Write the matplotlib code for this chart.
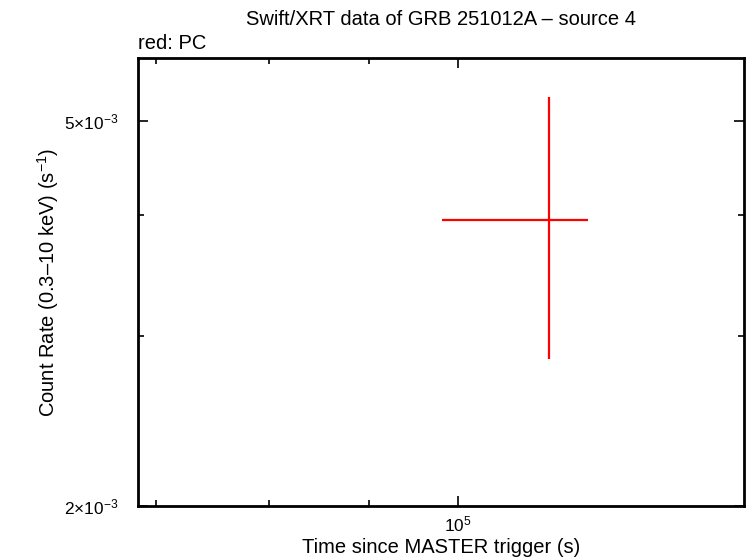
import numpy as np
import matplotlib
matplotlib.use("Agg")
import matplotlib.pyplot as plt
from matplotlib.ticker import FixedLocator, FixedFormatter, NullFormatter

plt.rcParams['font.family'] = ['Liberation Sans', 'DejaVu Sans']
plt.rcParams['mathtext.fontset'] = 'custom'
plt.rcParams['mathtext.rm'] = 'Liberation Sans'
plt.rcParams['mathtext.it'] = 'Liberation Sans'

# PC data (one bin)
t = [1.114e5]
t_lo = [1.33e4]
t_hi = [0.53e4]
rate = [3.95e-3]
rate_lo = [1.11e-3]
rate_hi = [1.34e-3]

xlim = (6.85e4, 1.403e5)
ylim = (2.0e-3, 5.81e-3)
x_major = [1e5]
x_major_labels = [r'$10^{5}$']
x_minor = [7e4, 8e4, 9e4]
y_major = [2e-3, 5e-3]
y_major_labels = [r'$2{\times}10^{-3}$', r'$5{\times}10^{-3}$']
y_minor = [3e-3, 4e-3]

fig = plt.figure(figsize=(7.46, 5.58), dpi=100)
ax = fig.add_axes([138/746, 52/558, 606/746, 448/558])

ax.errorbar(t, rate, xerr=[t_lo, t_hi], yerr=[rate_lo, rate_hi],
            fmt='none', ecolor='#ff0000', elinewidth=1.6, capsize=0)

ax.set_xscale('log')
ax.set_yscale('log')
ax.set_xlim(*xlim)
ax.set_ylim(*ylim)

ax.xaxis.set_major_locator(FixedLocator(x_major))
ax.xaxis.set_major_formatter(FixedFormatter(x_major_labels))
ax.xaxis.set_minor_locator(FixedLocator(x_minor))
ax.xaxis.set_minor_formatter(NullFormatter())
ax.yaxis.set_major_locator(FixedLocator(y_major))
ax.yaxis.set_major_formatter(FixedFormatter(y_major_labels))
ax.yaxis.set_minor_locator(FixedLocator(y_minor))
ax.yaxis.set_minor_formatter(NullFormatter())

ax.tick_params(which='both', direction='in', top=True, right=True,
               width=1.2, labelsize=12.4)
ax.tick_params(which='major', length=7)
ax.tick_params(which='minor', length=4)
ax.tick_params(axis='y', which='major', pad=14)
ax.tick_params(axis='x', which='major', pad=6)
for s in ax.spines.values():
    s.set_linewidth(2)

ax.set_xlabel('Time since MASTER trigger (s)', fontsize=14.5, labelpad=3)
ax.set_ylabel('Count Rate (0.3\u201310 keV) (s$^{-1}$)', fontsize=14.5, labelpad=2)
ax.set_title('Swift/XRT data of GRB 251012A \u2013 source 4', fontsize=14.5, pad=24)
ax.text(0.0, 1.012, 'red: PC', transform=ax.transAxes, fontsize=14.5,
        ha='left', va='bottom')

fig.savefig('out.png', dpi=100)
